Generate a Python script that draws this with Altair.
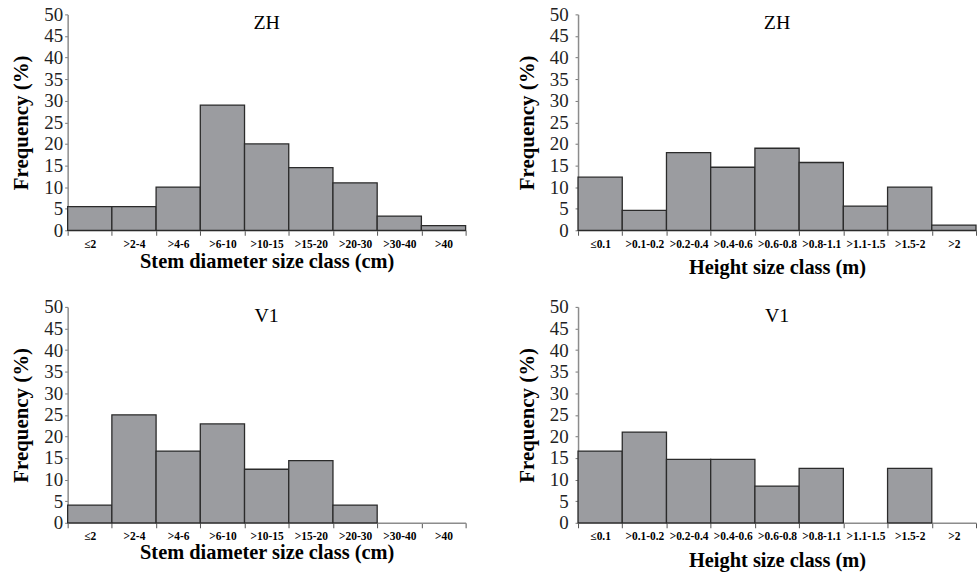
import altair as alt
import pandas as pd

# Size classes
diameter_classes = ["≤2", ">2-4", ">4-6", ">6-10", ">10-15", ">15-20", ">20-30", ">30-40", ">40"]
height_classes = ["≤0.1", ">0.1-0.2", ">0.2-0.4", ">0.4-0.6", ">0.6-0.8", ">0.8-1.1", ">1.1-1.5", ">1.5-2", ">2"]

# Frequency (%) per class and site
zh_diameter = [5.5, 5.5, 10.0, 29.0, 20.0, 14.5, 11.0, 3.3, 1.1]
zh_height = [12.3, 4.6, 18.0, 14.6, 19.0, 15.7, 5.6, 10.0, 1.2]
v1_diameter = [4.1, 25.0, 16.6, 22.9, 12.4, 14.4, 4.1, 0.0, 0.0]
v1_height = [16.6, 21.0, 14.7, 14.7, 8.5, 12.6, 0.0, 12.6, 0.0]

SERIF = "'Liberation Serif', 'Times New Roman', Times, serif"
FILL = "#9b9ca0"
EDGE = "#2b2b2b"
AXIS_GRAY = "#8c8c8c"


def panel(classes, values, site, x_title, label_pad, x_title_pad):
    df = pd.DataFrame({"cls": classes, "freq": values})
    return (
        alt.Chart(df)
        .transform_filter(alt.datum.freq > 0)
        .mark_bar(fill=FILL, stroke=EDGE, strokeWidth=1.3)
        .encode(
            x=alt.X(
                "cls:N",
                scale=alt.Scale(domain=classes, paddingInner=0, paddingOuter=0),
                axis=alt.Axis(
                    title=x_title,
                    titleFont=SERIF,
                    titleFontSize=20.5,
                    titleFontWeight="bold",
                    titleColor="black",
                    titlePadding=x_title_pad,
                    labelFont=SERIF,
                    labelFontSize=11.5,
                    labelFontWeight="bold",
                    labelColor="black",
                    labelAngle=0,
                    labelOverlap=False,
                    labelPadding=3,
                    tickBand="extent",
                    tickSize=5,
                    tickColor="#555555",
                    domainColor=AXIS_GRAY,
                    domainWidth=1.5,
                ),
            ),
            y=alt.Y(
                "freq:Q",
                scale=alt.Scale(domain=[0, 50], nice=False),
                axis=alt.Axis(
                    title="Frequency (%)",
                    titleFont=SERIF,
                    titleFontSize=21,
                    titleFontWeight="bold",
                    titleColor="black",
                    titlePadding=12,
                    values=list(range(0, 51, 5)),
                    labelFont=SERIF,
                    labelFontSize=19,
                    labelColor="#222222",
                    labelPadding=label_pad,
                    tickSize=3,
                    tickColor="#777777",
                    domainColor=AXIS_GRAY,
                    domainWidth=1.5,
                    grid=False,
                ),
            ),
        )
        .properties(
            width=400,
            height=217,
            title=alt.TitleParams(
                text=site,
                font=SERIF,
                fontSize=20,
                fontWeight="normal",
                color="black",
                anchor="middle",
                frame="group",
                offset=-28,
            ),
        )
    )


top = alt.hconcat(
    panel(diameter_classes, zh_diameter, "ZH", "Stem diameter size class (cm)", 2, 2),
    panel(height_classes, zh_height, "ZH", "Height size class (m)", 7, 8),
    spacing=50,
)
bottom = alt.hconcat(
    panel(diameter_classes, v1_diameter, "V1", "Stem diameter size class (cm)", 2, 0),
    panel(height_classes, v1_height, "V1", "Height size class (m)", 7, 8),
    spacing=50,
)

chart = (
    alt.vconcat(top, bottom, spacing=20)
    .properties(padding={"left": 11, "top": 4, "right": 0, "bottom": 0}, background="white")
    .configure_view(stroke=None)
)

chart.save("out.html", embed_options={"renderer": "svg", "actions": False})
